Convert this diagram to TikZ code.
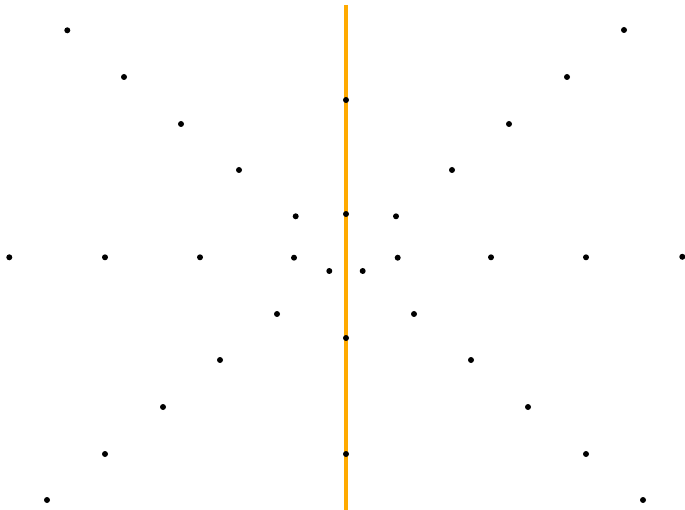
\documentclass[tikz,border=0pt]{standalone}
\definecolor{axisorange}{RGB}{255,170,0}
\tikzset{
  pt/.style={circle,fill=black,inner sep=0pt,minimum size=6pt},
  axisline/.style={draw=axisorange,line width=3.6pt}
}
\begin{document}
\begin{tikzpicture}[x=1pt,y=-1pt]
\useasboundingbox (0,0) rectangle (685,510);
\coordinate (top) at (346,5);
\coordinate (bot) at (346,510);
\draw[axisline] (top) -- (bot);
% points on the axis
\foreach \y [count=\i] in {100,214,338,454}
  \node[pt] (a\i) at (346,\y) {};
% left points
\foreach \x/\y [count=\i] in {67.3/30.3,124/77,181/124,239/170,295.7/216.3,
  9.3/257.3,105/257.3,200/257.3,294/257.7,329.3/271,
  277/314,220/360,163/407,105/454,47/500}
  \node[pt] (l\i) at (\x,\y) {};
% right points
\foreach \x/\y [count=\i] in {624/30,567/77,509/124,452/170,396/216.3,
  682.3/256.8,586/257.3,491/257.3,397.7/257.7,362.7/271,
  414/314,471/360,528/407,586/454,643/500}
  \node[pt] (r\i) at (\x,\y) {};
\end{tikzpicture}
\end{document}
